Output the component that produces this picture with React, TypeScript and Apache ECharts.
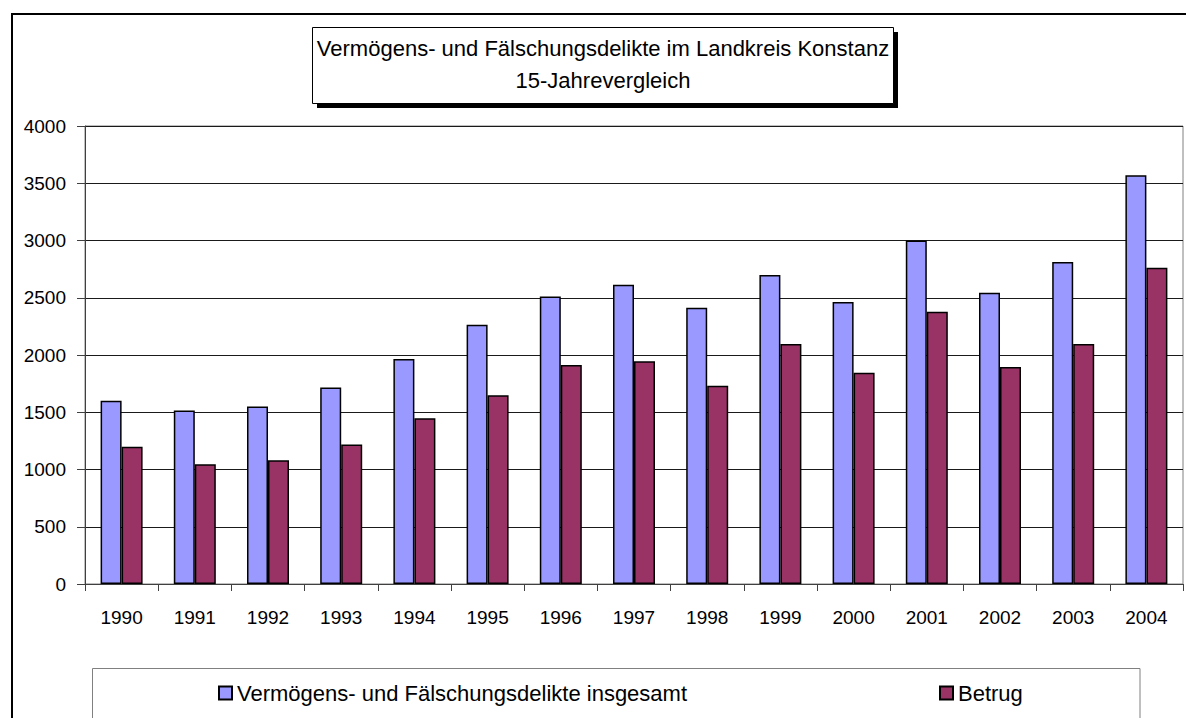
import React, { useEffect, useRef } from "react";
import * as echarts from "echarts";

const years = ["1990", "1991", "1992", "1993", "1994", "1995", "1996", "1997", "1998", "1999", "2000", "2001", "2002", "2003", "2004"];
const totalValues = [1600, 1515, 1550, 1716, 1965, 2264, 2512, 2613, 2413, 2698, 2462, 3000, 2544, 2812, 3570];
const betrugValues = [1198, 1046, 1081, 1218, 1448, 1648, 1913, 1945, 1732, 2096, 1846, 2378, 1895, 2096, 2762];
const seriesNames = ["Vermögens- und Fälschungsdelikte insgesamt", "Betrug"];
const titleLines = ["Vermögens- und Fälschungsdelikte im Landkreis Konstanz", "15-Jahrevergleich"];

const FONT = "'Liberation Sans', Arial, sans-serif";
const AXIS_FONT = "'Liberation Sans Narrow', 'Liberation Sans', Arial, sans-serif";

export default function App() {
  const ref = useRef<HTMLDivElement>(null);
  useEffect(() => {
    if (!ref.current) return;
    const chart = echarts.init(ref.current, undefined, { renderer: "svg" });
    chart.setOption({
      animation: false,
      backgroundColor: "#ffffff",
      grid: {
        left: 85,
        right: 3,
        top: 126,
        bottom: 134,
        show: true,
        borderColor: "#808080",
        borderWidth: 1,
        backgroundColor: "transparent",
      },
      xAxis: {
        type: "category",
        data: years,
        boundaryGap: true,
        axisLine: { show: true, lineStyle: { color: "#404040", width: 1 } },
        axisTick: { show: true, length: 7, alignWithLabel: false, lineStyle: { color: "#404040" } },
        axisLabel: { color: "#000", fontFamily: AXIS_FONT, fontSize: 19, margin: 24 },
        splitLine: { show: false },
      },
      yAxis: {
        type: "value",
        min: 0,
        max: 4000,
        interval: 500,
        axisLine: { show: true, lineStyle: { color: "#404040", width: 1 } },
        axisTick: { show: true, length: 8, inside: false, lineStyle: { color: "#404040" } },
        axisLabel: {
          color: "#000",
          fontFamily: AXIS_FONT,
          fontSize: 19,
          margin: 19,
          formatter: (v: number) => String(v),
        },
        splitLine: { show: true, lineStyle: { color: "#1a1a1a", width: 1 } },
      },
      legend: [
        {
          data: [seriesNames[0]],
          left: 218,
          top: 682,
          padding: 0,
          itemWidth: 13,
          itemHeight: 13,
          icon: "rect",
          textStyle: { color: "#000", fontFamily: FONT, fontSize: 22, lineHeight: 20 },
        },
        {
          data: [seriesNames[1]],
          left: 939,
          top: 682,
          padding: 0,
          itemWidth: 13,
          itemHeight: 13,
          icon: "rect",
          textStyle: { color: "#000", fontFamily: FONT, fontSize: 22, lineHeight: 20 },
        },
      ],
      series: [
        {
          name: seriesNames[0],
          type: "bar",
          data: totalValues,
          barWidth: 21,
          barGap: "0%",
          itemStyle: { color: "#9999FF", borderColor: "#000", borderWidth: 1.5 },
        },
        {
          name: seriesNames[1],
          type: "bar",
          data: betrugValues,
          barWidth: 21,
          barGap: "0%",
          itemStyle: { color: "#993366", borderColor: "#000", borderWidth: 1.5 },
        },
      ],
      graphic: [
        {
          type: "rect",
          silent: true,
          z: -10,
          shape: { x: 12, y: 14, width: 1400, height: 1000 },
          style: { fill: "none", stroke: "#000", lineWidth: 2 },
        },
        {
          type: "rect",
          silent: true,
          shape: { x: 92.5, y: 668.5, width: 1047.5, height: 200 },
          style: { fill: "none", stroke: "#808080", lineWidth: 1 },
        },
        {
          type: "rect",
          silent: true,
          shape: { x: 317, y: 32, width: 581, height: 76 },
          style: { fill: "#000" },
        },
        {
          type: "rect",
          silent: true,
          shape: { x: 312.5, y: 27.5, width: 581, height: 76 },
          style: { fill: "#fff", stroke: "#000", lineWidth: 1 },
        },
        {
          type: "text",
          silent: true,
          x: 603,
          y: 48,
          style: {
            text: titleLines[0],
            fill: "#000",
            font: `22px ${FONT}`,
            textAlign: "center",
            textVerticalAlign: "middle",
          },
        },
        {
          type: "text",
          silent: true,
          x: 603,
          y: 80,
          style: {
            text: titleLines[1],
            fill: "#000",
            font: `22px ${FONT}`,
            textAlign: "center",
            textVerticalAlign: "middle",
          },
        },
      ],
    });
    return () => chart.dispose();
  }, []);
  return (
    <div
      ref={ref}
      style={{ position: "fixed", left: 0, top: 0, width: 1186, height: 718, background: "#fff" }}
    />
  );
}
